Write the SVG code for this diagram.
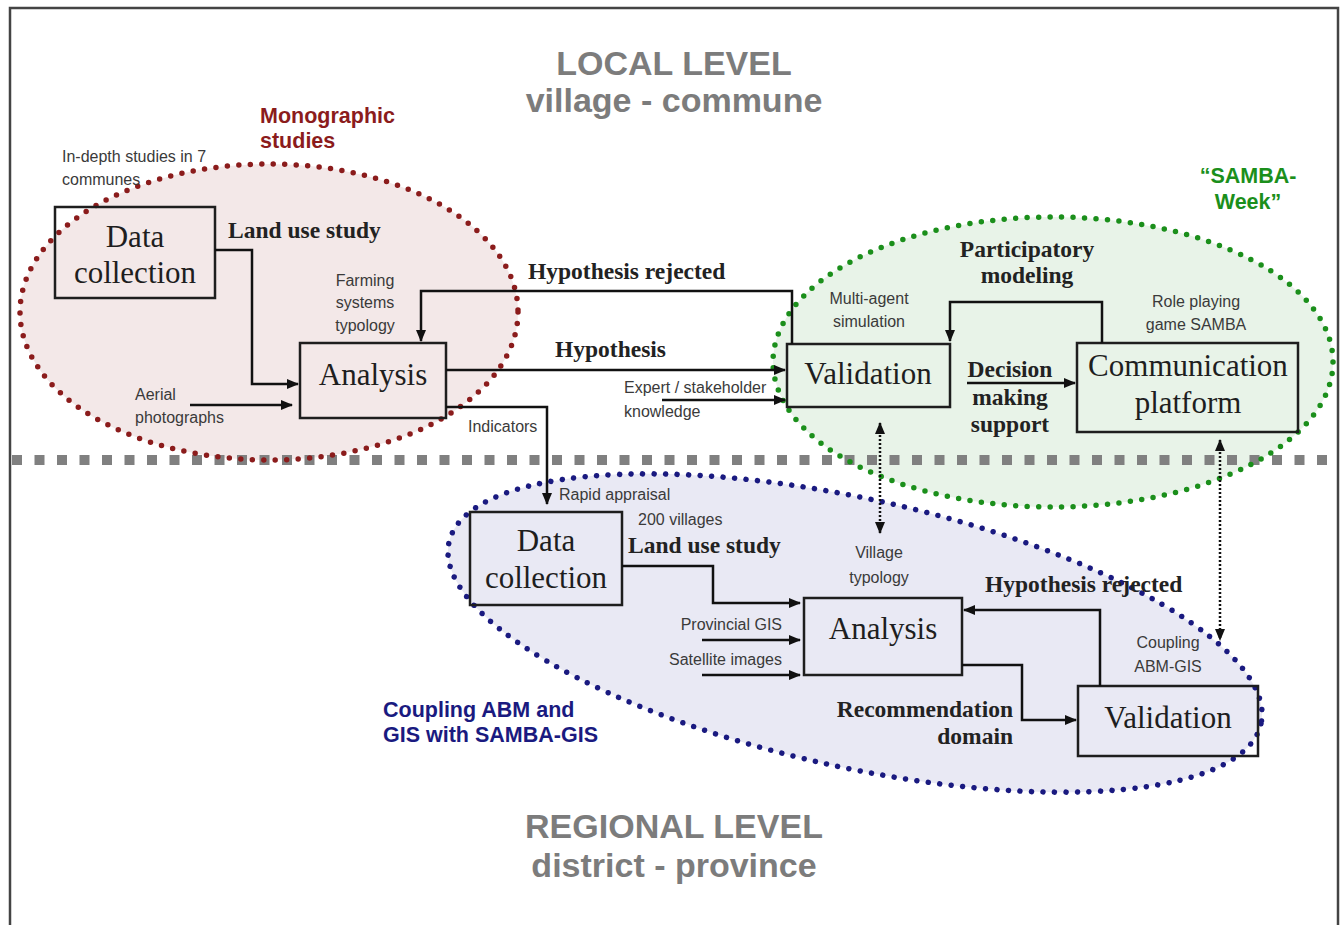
<svg xmlns="http://www.w3.org/2000/svg" width="1340" height="925" viewBox="0 0 1340 925">
<defs>
<style>
.box{fill:none;stroke:#1e1e1e;stroke-width:2.5}
.bt{font-family:"Liberation Serif","Times New Roman",serif;font-size:31px;fill:#1e1e1e;text-anchor:middle}
.lb{font-family:"Liberation Serif","Times New Roman",serif;font-size:23.5px;font-weight:bold;fill:#222}
.sm{font-family:"Liberation Sans",Arial,sans-serif;font-size:16px;fill:#3a3a3a}
.ttl{font-family:"Liberation Sans",Arial,sans-serif;font-size:34px;font-weight:bold;fill:#7c7c7c;text-anchor:middle}
.grp{font-family:"Liberation Sans",Arial,sans-serif;font-size:21.5px;font-weight:bold}
.con{fill:none;stroke:#111;stroke-width:2.5;marker-end:url(#ah)}
.dot{fill:none;stroke:#111;stroke-width:2.5;stroke-dasharray:2 2;marker-start:url(#ahs);marker-end:url(#ah)}
.ell{stroke-width:5.5;stroke-linecap:round;stroke-dasharray:0 11.5}
</style>
<marker id="ah" viewBox="0 0 12 10" refX="11" refY="5" markerWidth="12" markerHeight="10" markerUnits="userSpaceOnUse" orient="auto">
<path d="M0,0 L12,5 L0,10 z" fill="#111"/>
</marker>
<marker id="ahs" viewBox="0 0 12 10" refX="1" refY="5" markerWidth="12" markerHeight="10" markerUnits="userSpaceOnUse" orient="auto">
<path d="M12,0 L0,5 L12,10 z" fill="#111"/>
</marker>
</defs>
<rect width="1340" height="925" fill="#fff"/>
<rect x="10" y="8" width="1328" height="940" fill="none" stroke="#444" stroke-width="2.5"/>

<g id="regions-fill">
<ellipse cx="269" cy="312" rx="249" ry="148" fill="#f3e8e8"/>
<ellipse cx="855" cy="633" rx="416" ry="134" transform="rotate(12.6 855 633)" fill="#e9e9f4"/>
<ellipse cx="1053" cy="362" rx="280" ry="145" fill="#e8f3e8"/>
</g>
<line id="level-divider" x1="12" y1="460" x2="1338" y2="460" stroke="#808080" stroke-width="10" stroke-dasharray="10 12.5"/>
<g id="regions-outline">
<ellipse class="ell" cx="269" cy="312" rx="249" ry="148" fill="none" stroke="#8b1c1c"/>
<ellipse class="ell" cx="855" cy="633" rx="416" ry="134" transform="rotate(12.6 855 633)" fill="none" stroke="#1a1a80"/>
<ellipse class="ell" cx="1053" cy="362" rx="280" ry="145" fill="none" stroke="#1b8f1b"/>
</g>

<g id="titles">
<text class="ttl" x="674" y="75">LOCAL LEVEL</text>
<text class="ttl" x="674" y="112">village - commune</text>
<text class="ttl" x="674" y="838">REGIONAL LEVEL</text>
<text class="ttl" x="674" y="877">district - province</text>
</g>
<g id="group-labels">
<text class="grp" fill="#8b1c1c" x="260" y="123">Monographic</text>
<text class="grp" fill="#8b1c1c" x="260" y="148">studies</text>
<text class="grp" fill="#1b8f1b" x="1248" y="183" text-anchor="middle">“SAMBA-</text>
<text class="grp" fill="#1b8f1b" x="1248" y="209" text-anchor="middle">Week”</text>
<text class="grp" fill="#1a1a80" x="383" y="717">Coupling ABM and</text>
<text class="grp" fill="#1a1a80" x="383" y="742">GIS with SAMBA-GIS</text>
</g>

<g id="node-data-collection-local">
<rect class="box" x="55" y="207" width="160" height="91"/>
<text class="bt" x="135" y="247">Data</text>
<text class="bt" x="135" y="283">collection</text>
</g>
<g id="node-analysis-local">
<rect class="box" x="300" y="343" width="146" height="75"/>
<text class="bt" x="373" y="385">Analysis</text>
</g>
<g id="node-validation-local">
<rect class="box" x="787" y="344" width="163" height="63"/>
<text class="bt" x="868" y="384">Validation</text>
</g>
<g id="node-communication-platform">
<rect class="box" x="1077" y="343" width="221" height="89"/>
<text class="bt" x="1188" y="376">Communication</text>
<text class="bt" x="1188" y="413">platform</text>
</g>
<g id="node-data-collection-regional">
<rect class="box" x="470" y="512" width="152" height="93"/>
<text class="bt" x="546" y="551">Data</text>
<text class="bt" x="546" y="588">collection</text>
</g>
<g id="node-analysis-regional">
<rect class="box" x="804" y="598" width="158" height="77"/>
<text class="bt" x="883" y="639">Analysis</text>
</g>
<g id="node-validation-regional">
<rect class="box" x="1078" y="686" width="180" height="70"/>
<text class="bt" x="1168" y="728">Validation</text>
</g>

<g id="connectors">
<path class="con" d="M215,250 H252 V384 H298"/>
<path class="con" d="M190,405 H292"/>
<path class="con" d="M792,344 V291 H421 V341"/>
<path class="con" d="M446,370 H785"/>
<path class="con" d="M662,400 H785"/>
<path class="con" d="M446,407 H547 V504"/>
<path class="con" d="M1102,343 V302 H950 V341"/>
<path class="con" d="M967,383 H1075"/>
<path class="con" d="M622,566 H713 V603 H800"/>
<path class="con" d="M702,640 H800"/>
<path class="con" d="M702,675 H800"/>
<path class="con" d="M1100,686 V610 H964"/>
<path class="con" d="M962,665 H1022 V720 H1076"/>
<path class="dot" d="M880,423 V533"/>
<path class="dot" d="M1220,440 V640"/>
</g>

<g id="connector-labels">
<text class="sm" x="62" y="162">In-depth studies in 7</text>
<text class="sm" x="62" y="185">communes</text>
<text class="lb" x="228" y="238">Land use study</text>
<text class="sm" x="365" y="286" text-anchor="middle">Farming</text>
<text class="sm" x="365" y="308" text-anchor="middle">systems</text>
<text class="sm" x="365" y="331" text-anchor="middle">typology</text>
<text class="sm" x="135" y="400">Aerial</text>
<text class="sm" x="135" y="423">photographs</text>
<text class="lb" x="528" y="279">Hypothesis rejected</text>
<text class="lb" x="555" y="357">Hypothesis</text>
<text class="sm" x="624" y="393">Expert / stakeholder</text>
<text class="sm" x="624" y="417">knowledge</text>
<text class="sm" x="468" y="432">Indicators</text>
<text class="sm" x="869" y="304" text-anchor="middle">Multi-agent</text>
<text class="sm" x="869" y="327" text-anchor="middle">simulation</text>
<text class="lb" x="1027" y="257" text-anchor="middle">Participatory</text>
<text class="lb" x="1027" y="283" text-anchor="middle">modeling</text>
<text class="sm" x="1196" y="307" text-anchor="middle">Role playing</text>
<text class="sm" x="1196" y="330" text-anchor="middle">game SAMBA</text>
<text class="lb" x="1010" y="377" text-anchor="middle">Decision</text>
<text class="lb" x="1010" y="405" text-anchor="middle">making</text>
<text class="lb" x="1010" y="432" text-anchor="middle">support</text>
<text class="sm" x="559" y="500">Rapid appraisal</text>
<text class="sm" x="638" y="525">200 villages</text>
<text class="lb" x="628" y="553">Land use study</text>
<text class="sm" x="782" y="630" text-anchor="end">Provincial GIS</text>
<text class="sm" x="782" y="665" text-anchor="end">Satellite images</text>
<text class="sm" x="879" y="558" text-anchor="middle">Village</text>
<text class="sm" x="879" y="583" text-anchor="middle">typology</text>
<text class="lb" x="985" y="592">Hypothesis rejected</text>
<text class="sm" x="1168" y="648" text-anchor="middle">Coupling</text>
<text class="sm" x="1168" y="672" text-anchor="middle">ABM-GIS</text>
<text class="lb" x="1013" y="717" text-anchor="end">Recommendation</text>
<text class="lb" x="1013" y="744" text-anchor="end">domain</text>
</g>
</svg>
